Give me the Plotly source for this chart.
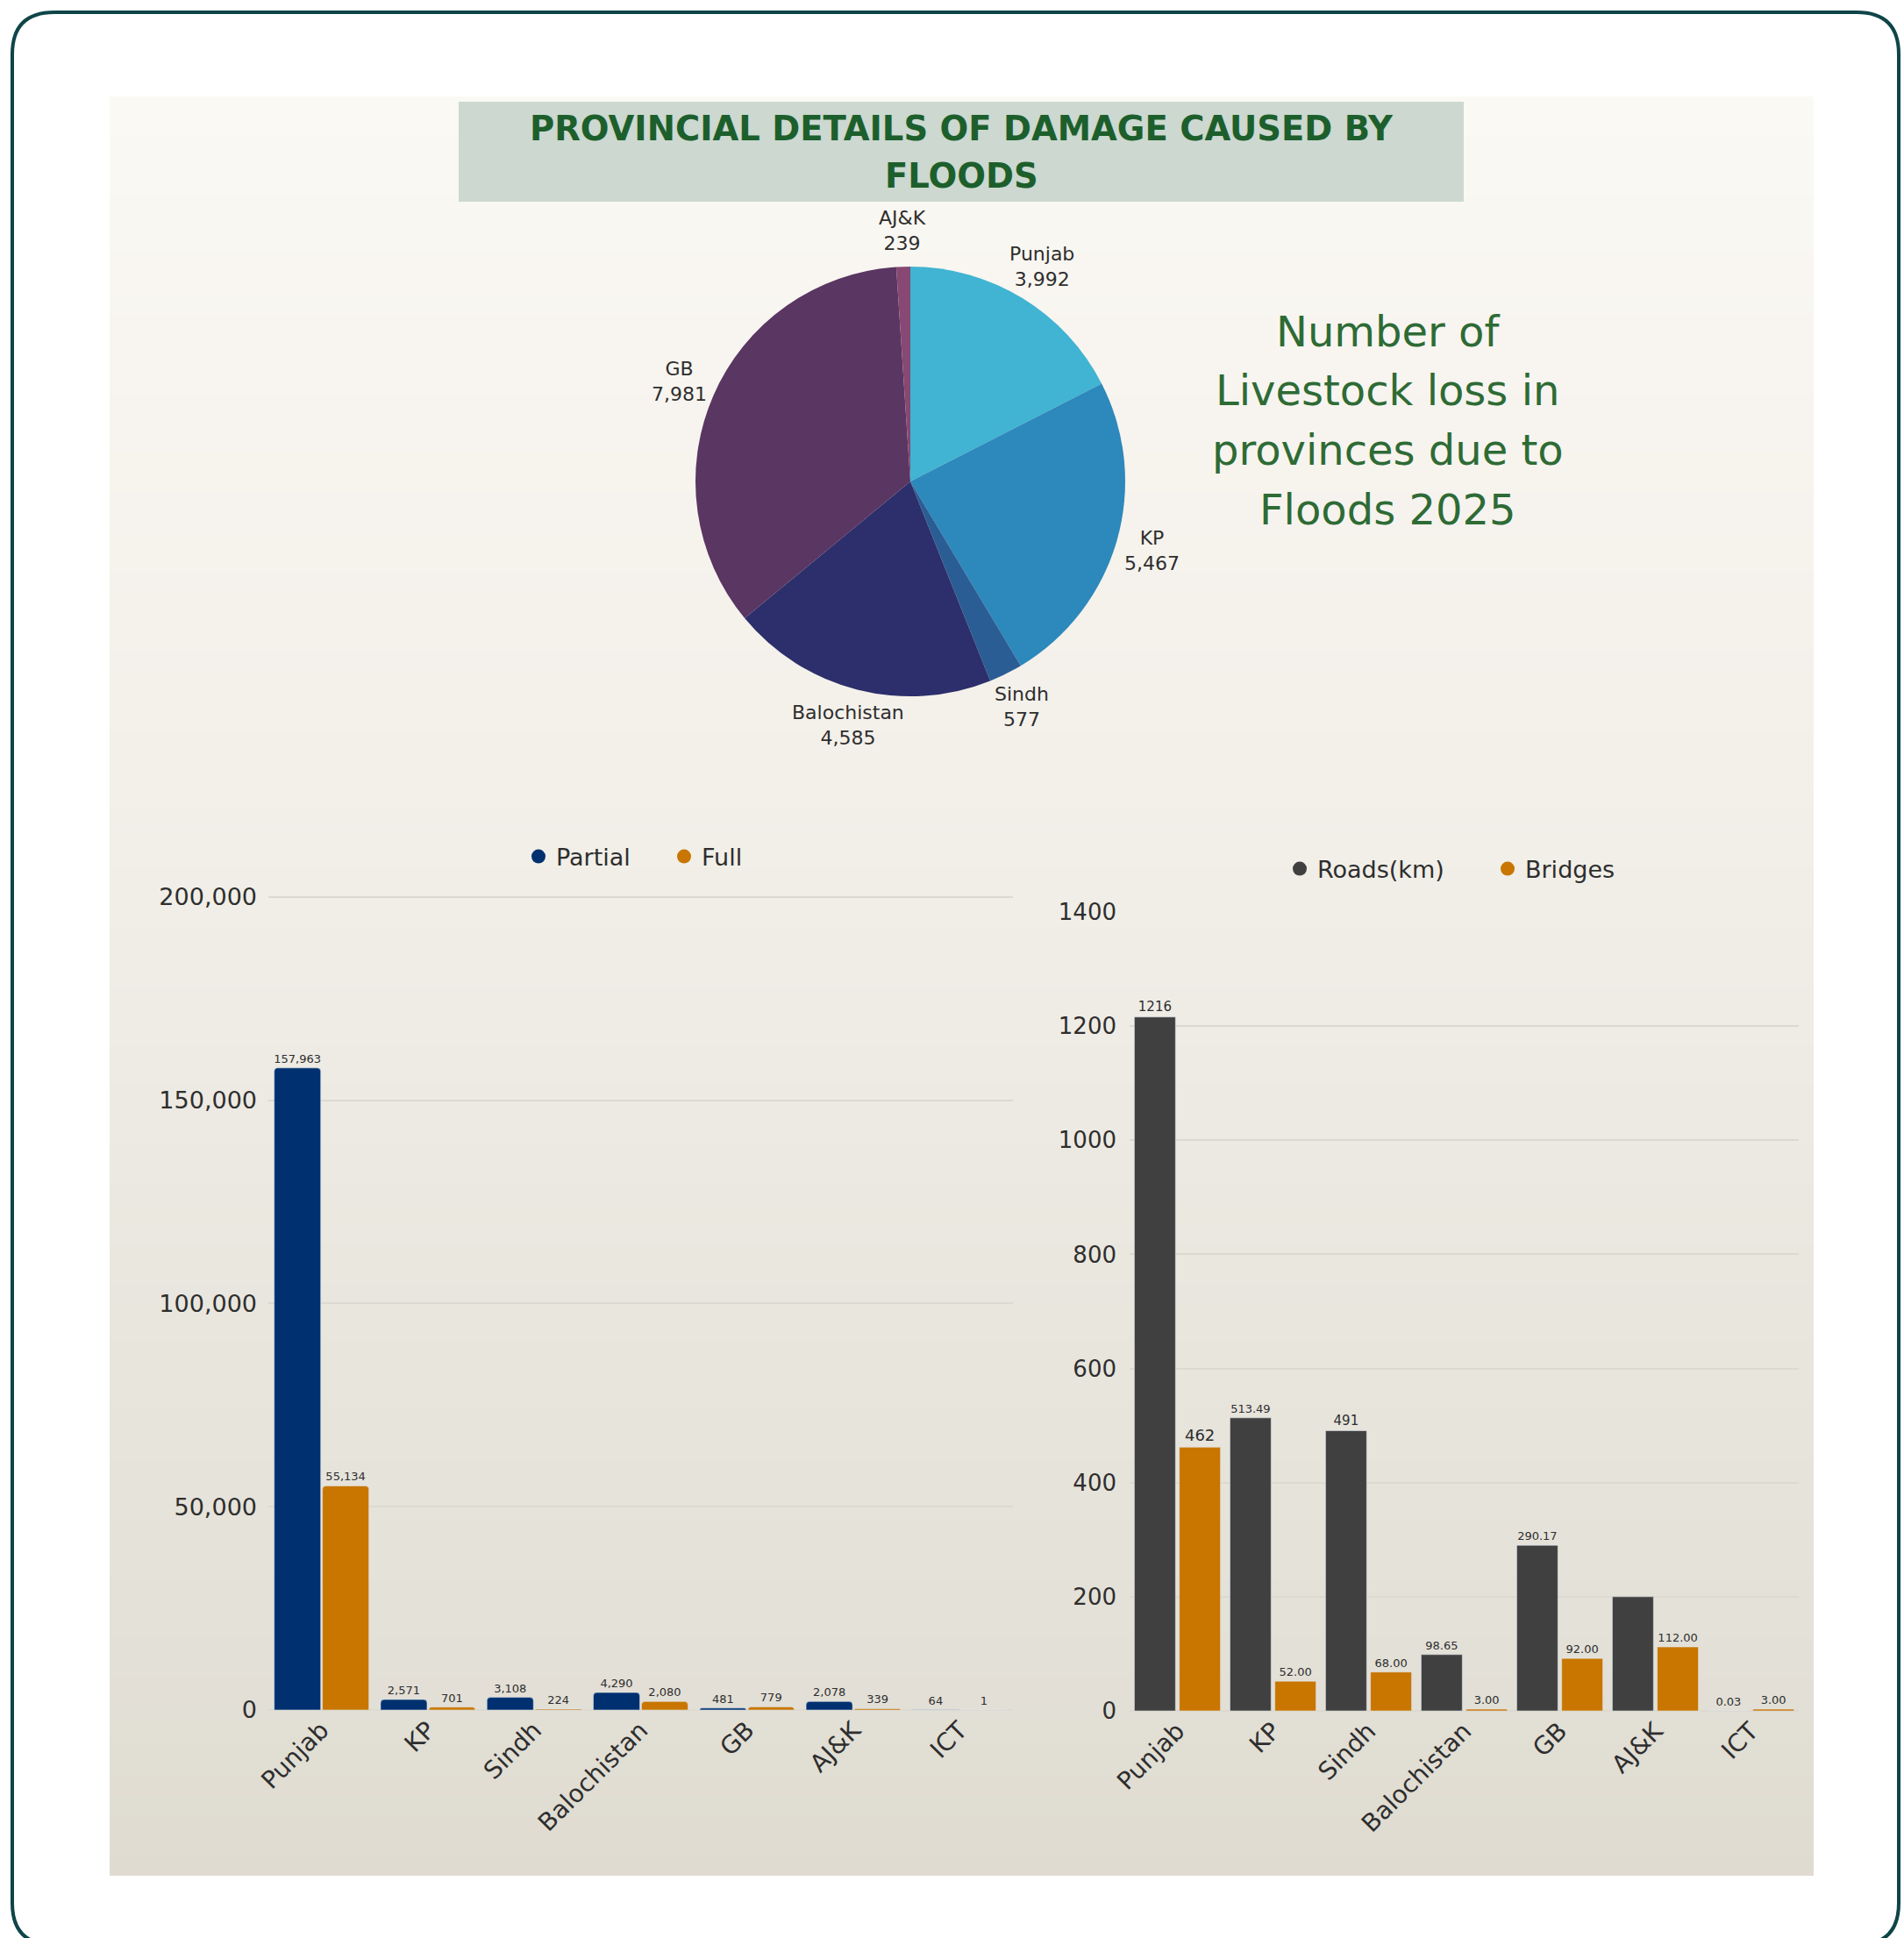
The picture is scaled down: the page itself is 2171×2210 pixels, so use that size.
import math
import plotly.graph_objects as go

W, H = 2171, 2210
FONT = "DejaVu Sans"

# ---------------- data ----------------
pie_labels = ["Punjab", "KP", "Sindh", "Balochistan", "GB", "AJ&K"]
pie_values = [3992, 5467, 577, 4585, 7981, 239]

provinces = ["Punjab", "KP", "Sindh", "Balochistan", "GB", "AJ&K", "ICT"]
houses_partial = [157963, 2571, 3108, 4290, 481, 2078, 64]
houses_full = [55134, 701, 224, 2080, 779, 339, 1]

roads_km = [1216, 513.49, 491, 98.65, 290.17, 200, 0.03]
bridges = [462, 52, 68, 3, 92, 112, 3]
roads_labels = ["1216", "513.49", "491", "98.65", "290.17", "", "0.03"]
bridges_labels = ["462", "52.00", "68.00", "3.00", "92.00", "112.00", "3.00"]

left_yticks = [0, 50000, 100000, 150000, 200000]
right_yticks = [0, 200, 400, 600, 800, 1000, 1200, 1400]

# ---------------- styles ----------------
pie_colors = ["#40b4d2", "#2d88bb", "#2b5d95", "#2c2f6b", "#5a3662", "#874873"]
NAVY, ORANGE, DARK = "#00306f", "#c87600", "#404040"
GRID = "#dcd9d1"
TXT = "#2e2e2e"


def px(x):
    return x / W


def py(y):
    return 1 - y / H


def hex2rgb(h):
    h = h.lstrip("#")
    return tuple(int(h[i:i + 2], 16) for i in (0, 2, 4))


shapes = []
# background panel gradient
stops = [(110, "#faf9f3"), (400, "#f8f5f0"), (800, "#f4f1eb"), (1100, "#efede6"),
         (1500, "#e9e6de"), (1900, "#e3e0d7"), (2139, "#dfdbd0")]
top, bot = 110, 2139
N = 90
for i in range(N):
    y0 = top + (bot - top) * i / N
    y1 = top + (bot - top) * (i + 1) / N
    ym = (y0 + y1) / 2
    for j in range(len(stops) - 1):
        if stops[j][0] <= ym <= stops[j + 1][0]:
            t = (ym - stops[j][0]) / (stops[j + 1][0] - stops[j][0])
            c0, c1 = hex2rgb(stops[j][1]), hex2rgb(stops[j + 1][1])
            c = tuple(round(a + (b - a) * t) for a, b in zip(c0, c1))
            break
    shapes.append(dict(type="rect", xref="paper", yref="paper", layer="below",
                       x0=px(125), x1=px(2068), y0=py(y0), y1=py(min(y1 + 1, bot)),
                       fillcolor="rgb(%d,%d,%d)" % c, line=dict(width=0)))

# title box
shapes.append(dict(type="rect", xref="paper", yref="paper", layer="below",
                   x0=px(523), x1=px(1669), y0=py(116), y1=py(230),
                   fillcolor="#ccd8d0", line=dict(width=0)))

# outer rounded border
L, R, T, B, r = 14, 2165, 14, 2218, 48
pts = [("M", L + r, T), ("L", R - r, T), ("Q", R, T, R, T + r), ("L", R, B - r),
       ("Q", R, B, R - r, B), ("L", L + r, B), ("Q", L, B, L, B - r), ("L", L, T + r),
       ("Q", L, T, L + r, T)]
path = ""
for p in pts:
    cmd = p[0]
    coords = p[1:]
    s = []
    for k in range(0, len(coords), 2):
        s.append("%.5f,%.5f" % (px(coords[k]), py(coords[k + 1])))
    path += cmd + " ".join(s) + " "
path += "Z"
shapes.append(dict(type="path", xref="paper", yref="paper", path=path,
                   line=dict(color="#0f4548", width=4), fillcolor="rgba(0,0,0,0)"))

fig = go.Figure()

# ---------------- pie ----------------
PIE_CX, PIE_CY, PIE_R = 1038, 549, 245
fig.add_trace(go.Pie(
    labels=pie_labels, values=pie_values, sort=False, direction="clockwise", rotation=0,
    marker=dict(colors=pie_colors, line=dict(width=0)),
    textinfo="none",
    domain=dict(x=[px(PIE_CX - PIE_R), px(PIE_CX + PIE_R)],
                y=[py(PIE_CY + PIE_R), py(PIE_CY - PIE_R)]),
    showlegend=False, automargin=False,
))

# ---------------- left bars ----------------
fig.add_trace(go.Bar(
    x=provinces, y=houses_partial, name="Partial", marker=dict(color=NAVY, cornerradius=4),
    width=0.437, offset=-0.445, texttemplate="%{y:,}", textposition="outside",
    textfont=dict(size=13, color=TXT, family=FONT), constraintext="none", cliponaxis=False,
    xaxis="x", yaxis="y", showlegend=False,
))
fig.add_trace(go.Bar(
    x=provinces, y=houses_full, name="Full", marker=dict(color=ORANGE, cornerradius=4),
    width=0.437, offset=0.008, texttemplate="%{y:,}", textposition="outside",
    textfont=dict(size=13, color=TXT, family=FONT), constraintext="none", cliponaxis=False,
    xaxis="x", yaxis="y", showlegend=False,
))
for nm, col in [("Partial", NAVY), ("Full", ORANGE)]:
    fig.add_trace(go.Scatter(x=[None], y=[None], mode="markers", name=nm,
                             marker=dict(size=16, color=col), legend="legend",
                             xaxis="x", yaxis="y"))

# ---------------- right bars ----------------
fig.add_trace(go.Bar(
    x=provinces, y=roads_km, name="Roads(km)", marker=dict(color=DARK),
    width=0.43, offset=-0.45, text=roads_labels, texttemplate="%{text}", textposition="outside",
    textfont=dict(size=[15, 13, 15, 13, 13, 13, 13], color=TXT, family=FONT),
    constraintext="none", cliponaxis=False, xaxis="x2", yaxis="y2", showlegend=False,
))
fig.add_trace(go.Bar(
    x=provinces, y=bridges, name="Bridges", marker=dict(color=ORANGE),
    width=0.43, offset=0.02, text=bridges_labels, texttemplate="%{text}", textposition="outside",
    textfont=dict(size=[18, 13, 13, 13, 13, 13, 13], color=TXT, family=FONT),
    constraintext="none", cliponaxis=False, xaxis="x2", yaxis="y2", showlegend=False,
))
for nm, col in [("Roads(km)", DARK), ("Bridges", ORANGE)]:
    fig.add_trace(go.Scatter(x=[None], y=[None], mode="markers", name=nm,
                             marker=dict(size=16, color=col), legend="legend2",
                             xaxis="x2", yaxis="y2"))

# ---------------- annotations ----------------
ann = [
    dict(text="<b>PROVINCIAL DETAILS OF DAMAGE CAUSED BY</b>", x=px(1096), y=py(147),
         font=dict(size=38.5, color="#1d5f2c", family=FONT)),
    dict(text="<b>FLOODS</b>", x=px(1096), y=py(200),
         font=dict(size=38.5, color="#1d5f2c", family=FONT)),
]
for line, yy in zip(["Number of", "Livestock loss in", "provinces due to", "Floods 2025"],
                    [378, 445, 513, 581]):
    ann.append(dict(text=line, x=px(1582), y=py(yy),
                    font=dict(size=48, color="#2e6b35", family=FONT)))

# pie labels: centred on each slice's mid-angle, just outside the pie
total = sum(pie_values)
cum = 0
LABEL_DIST = PIE_R * 1.17
for lab, val in zip(pie_labels, pie_values):
    mid = (cum + val / 2) / total * 2 * math.pi
    cum += val
    lx = PIE_CX + LABEL_DIST * math.sin(mid)
    ly = PIE_CY - LABEL_DIST * math.cos(mid)
    ann.append(dict(text="%s<br>%s" % (lab, format(val, ",")), x=px(lx), y=py(ly),
                    font=dict(size=22, color=TXT, family=FONT)))

for a in ann:
    a.update(xref="paper", yref="paper", showarrow=False, xanchor="center", yanchor="middle")

axis_common = dict(showline=False, ticks="", automargin=False,
                   tickfont=dict(size=28, color=TXT, family=FONT))

LEFT_TOP = 200000 * 1.006
RIGHT_TOP = 1400

fig.update_layout(
    width=W, height=H, margin=dict(l=0, r=0, t=0, b=0, autoexpand=False),
    paper_bgcolor="white", plot_bgcolor="rgba(0,0,0,0)",
    font=dict(family=FONT, color=TXT),
    shapes=shapes, annotations=ann, barmode="group",
    xaxis=dict(domain=[px(306), px(1155)], anchor="y", tickangle=-45, showgrid=False,
               **axis_common),
    yaxis=dict(domain=[py(1950), py(1950 - 927 * 1.006)], anchor="x", range=[0, LEFT_TOP],
               tickvals=left_yticks, tickformat=",", showgrid=True, gridcolor=GRID,
               gridwidth=2, zeroline=True, zerolinecolor=GRID, zerolinewidth=2,
               ticklabelstandoff=12, showline=False, ticks="", automargin=False,
               tickfont=dict(size=27, color=TXT, family=FONT)),
    xaxis2=dict(domain=[px(1288), px(2051)], anchor="y2", tickangle=-45, showgrid=False,
                **axis_common),
    yaxis2=dict(domain=[py(1951), py(1040)], anchor="x2", range=[0, RIGHT_TOP],
                tickvals=right_yticks, tickformat="d", showgrid=True, gridcolor=GRID,
                gridwidth=2, zeroline=True, zerolinecolor=GRID, zerolinewidth=2,
                ticklabelstandoff=14, showline=False, ticks="", automargin=False,
                tickfont=dict(size=26, color=TXT, family=FONT)),
    legend=dict(orientation="h", x=px(760), xanchor="center", y=py(977), yanchor="middle",
                entrywidth=121, font=dict(size=27, color=TXT, family=FONT),
                bgcolor="rgba(0,0,0,0)"),
    legend2=dict(orientation="h", x=px(1699), xanchor="center", y=py(991), yanchor="middle",
                 entrywidth=192, font=dict(size=27, color=TXT, family=FONT),
                 bgcolor="rgba(0,0,0,0)"),
)

fig.write_html("out.html", config={"displayModeBar": False},
               post_script="document.body.style.margin='0';document.body.style.overflow='hidden';")
